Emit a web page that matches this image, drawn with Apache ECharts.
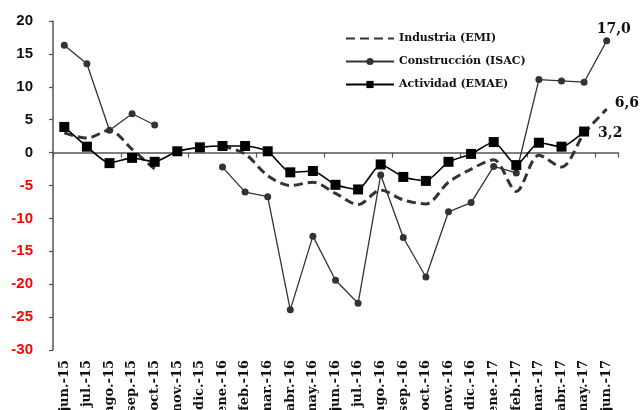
<!DOCTYPE html>
<html>
<head>
<meta charset="utf-8">
<script src="https://cdn.jsdelivr.net/npm/echarts@6/dist/echarts.min.js"></script>
<style>
html,body{margin:0;padding:0;background:#fff;}
#c{width:641px;height:410px;}
</style>
</head>
<body>
<div id="c"></div>
<script>
const categories = ['jun.-15','jul.-15','ago.-15','sep.-15','oct.-15','nov.-15','dic.-15','ene.-16','feb.-16','mar.-16','abr.-16','may.-16','jun.-16','jul.-16','ago.-16','sep.-16','oct.-16','nov.-16','dic.-16','ene.-17','feb.-17','mar.-17','abr.-17','may.-17','jun.-17'];
const industriaEMI = [3.0, 2.2, 3.4, 0.5, -2.5, null, null, 1.0, -0.2, -3.5, -5.0, -4.5, -6.2, -7.9, -5.7, -7.2, -7.8, -4.5, -2.5, -1.1, -5.9, -0.4, -2.2, 2.9, 6.6];
const construccionISAC = [16.3, 13.5, 3.4, 5.9, 4.2, null, null, -2.2, -6.0, -6.7, -23.9, -12.7, -19.4, -22.9, -3.4, -12.9, -18.9, -9.0, -7.6, -2.1, -3.1, 11.1, 10.9, 10.7, 17.0];
const actividadEMAE = [3.9, 0.9, -1.6, -0.8, -1.4, 0.2, 0.8, 1.0, 1.0, 0.2, -3.0, -2.8, -4.9, -5.6, -1.8, -3.7, -4.3, -1.4, -0.2, 1.6, -1.9, 1.5, 0.9, 3.2, null];
const seriesNames = ['Industria (EMI)', 'Construcción (ISAC)', 'Actividad (EMAE)'];
const yTicks = {min: -30, max: 20, interval: 5};

const serif = 'DejaVu Serif';
function fmt(v){ return v.toFixed(1).replace('.', ','); }
function lastLabelled(arr, labelOpt){
  let last = -1;
  arr.forEach((v,i)=>{ if (v !== null) last = i; });
  return arr.map((v,i)=> i === last ? {value: v, label: Object.assign({show: true, formatter: fmt(v), fontFamily: serif, fontWeight: 'bold', fontSize: 14, color: '#111'}, labelOpt)} : v);
}

const chart = echarts.init(document.getElementById('c'), null, {renderer: 'canvas'});
chart.setOption({
  animation: false,
  backgroundColor: '#fff',
  grid: {left: 53, right: 23, top: 21, bottom: 60, containLabel: false, outerBoundsMode: 'none'},
  legend: {
    orient: 'vertical', left: 340, top: 28, itemWidth: 48, itemHeight: 9, itemGap: 12,
    textStyle: {fontFamily: serif, fontWeight: 'bold', fontSize: 11, color: '#111'},
    data: [
      {name: seriesNames[0], itemStyle: {opacity: 0}},
      {name: seriesNames[1]},
      {name: seriesNames[2]}
    ]
  },
  xAxis: [
    {
      type: 'category', data: categories, boundaryGap: true, position: 'bottom',
      axisLine: {onZero: true, lineStyle: {color: '#555', width: 1.5}},
      axisTick: {show: true, length: 5, inside: false, lineStyle: {color: '#555', width: 1.2}},
      axisLabel: {show: false}, splitLine: {show: false}
    },
    {
      type: 'category', data: categories, boundaryGap: true, position: 'bottom',
      axisLine: {show: false, onZero: false}, axisTick: {show: false},
      axisLabel: {show: true, rotate: 90, interval: 0, margin: 10, fontFamily: serif, fontWeight: 'bold', fontSize: 13, color: '#111'},
      splitLine: {show: false}
    }
  ],
  yAxis: {
    type: 'value', min: yTicks.min, max: yTicks.max, interval: yTicks.interval,
    axisLine: {show: true, lineStyle: {color: '#555', width: 1.5}},
    axisTick: {show: true, length: 4, lineStyle: {color: '#555', width: 1.2}},
    axisLabel: {margin: 20, fontFamily: 'Liberation Sans', fontWeight: 'bold', fontSize: 15,
      color: function(v){ return Number(v) < 0 ? '#ff0000' : '#111'; }},
    splitLine: {show: false}
  },
  series: [
    {
      name: seriesNames[0], type: 'line', xAxisIndex: 0, smooth: 0.3, showSymbol: true, symbol: 'circle', symbolSize: 0,
      data: lastLabelled(industriaEMI, {position: 'right', distance: 8, offset: [0, -6]}),
      lineStyle: {type: [9, 5], width: 3, color: '#333'}, itemStyle: {color: '#333'}, z: 2
    },
    {
      name: seriesNames[1], type: 'line', xAxisIndex: 0, symbol: 'circle', symbolSize: 7,
      data: lastLabelled(construccionISAC, {position: 'top', distance: 1, offset: [7, 0]}),
      lineStyle: {width: 1.3, color: '#333'}, itemStyle: {color: '#333'}, z: 3
    },
    {
      name: seriesNames[2], type: 'line', xAxisIndex: 0, smooth: 0.2, symbol: 'rect', symbolSize: 10,
      data: lastLabelled(actividadEMAE, {position: 'right', distance: 9, offset: [0, 1.5]}),
      lineStyle: {width: 1.6, color: '#000'}, itemStyle: {color: '#000'}, z: 4
    }
  ]
});
</script>
</body>
</html>
